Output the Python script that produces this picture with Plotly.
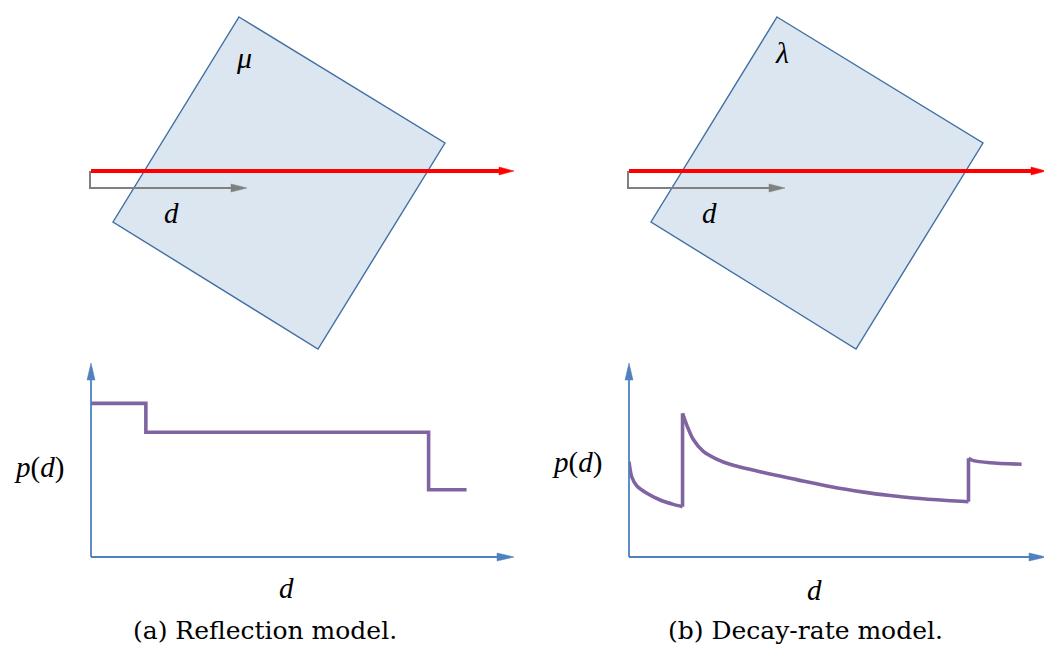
import plotly.graph_objects as go

# p(d) for the reflection model: piecewise-constant along the ray
refl_d = [0.0, 1.3, 1.3, 8.0, 8.0, 8.9]
refl_p = [0.80, 0.80, 0.65, 0.65, 0.35, 0.35]

# p(d) for the decay-rate model: decays inside each region, jumps at boundaries
decay_seg1_d = [0.0, 0.065, 0.19, 0.43, 0.75, 1.07, 1.29]
decay_seg1_p = [0.496, 0.418, 0.370, 0.332, 0.297, 0.274, 0.262]
decay_seg2_d = [1.29, 1.39, 1.55, 1.79, 2.11, 2.43, 3.24, 4.04, 4.84, 5.65, 6.29, 6.85, 7.66, 8.18]
decay_seg2_p = [0.748, 0.688, 0.612, 0.550, 0.510, 0.483, 0.440, 0.403, 0.367, 0.338, 0.320, 0.307, 0.294, 0.288]
decay_seg3_d = [8.18, 8.30, 8.70, 9.46]
decay_seg3_p = [0.514, 0.502, 0.491, 0.483]

W, H = 1044, 646
PURPLE = "#8064a2"
AXBLUE = "#4f81bd"
FILL = "#dce6f0"
EDGE = "#3f6fa3"
RED = "#ff0000"
GRAY = "#808080"
TEXT_FONT = "DejaVu Serif"
MATH_FONT = "Liberation Serif"
CURVE = dict(color=PURPLE, width=3.6)

fig = go.Figure()

def dom_x(a, b):
    return [a / W, b / W]

def dom_y(top, bottom):
    return [1 - bottom / H, 1 - top / H]

# reflection model curve
fig.add_trace(go.Scatter(x=refl_d, y=refl_p, mode="lines", line=CURVE,
                         xaxis="x2", yaxis="y2", showlegend=False))

# decay-rate model: smooth decays plus vertical jumps at the boundaries
segments = [(decay_seg1_d, decay_seg1_p), (decay_seg2_d, decay_seg2_p),
            (decay_seg3_d, decay_seg3_p)]
for sd, sp in segments:
    fig.add_trace(go.Scatter(x=sd, y=sp, mode="lines",
                             line=dict(CURVE, shape="spline", smoothing=0.8),
                             xaxis="x3", yaxis="y3", showlegend=False))
for (ad, ap), (bd, bp) in zip(segments[:-1], segments[1:]):
    fig.add_trace(go.Scatter(x=[ad[-1], bd[0]], y=[ap[-1], bp[0]], mode="lines",
                             line=CURVE, xaxis="x3", yaxis="y3", showlegend=False))

hidden = dict(visible=False, fixedrange=True)
fig.update_layout(
    width=W, height=H,
    margin=dict(l=0, r=0, t=0, b=0),
    paper_bgcolor="white", plot_bgcolor="rgba(0,0,0,0)",
    xaxis=dict(range=[0, W], domain=[0, 1], **hidden),
    yaxis=dict(range=[H, 0], domain=[0, 1], **hidden),
    xaxis2=dict(range=[0, 10], domain=dom_x(91, 513), anchor="y2", **hidden),
    yaxis2=dict(range=[0, 1], domain=dom_y(365, 557), anchor="x2", **hidden),
    xaxis3=dict(range=[0, 10], domain=dom_x(629, 1044), anchor="y3", **hidden),
    yaxis3=dict(range=[0, 1], domain=dom_y(365, 557), anchor="x3", **hidden),
)

shapes = []

def line(x0, y0, x1, y1, color, width):
    shapes.append(dict(type="line", xref="x", yref="y", x0=x0, y0=y0, x1=x1, y1=y1,
                       line=dict(color=color, width=width)))

def head(tipx, tipy, direction, length, half, color):
    # filled triangular arrowhead
    if direction == "right":
        p = f"M {tipx} {tipy} L {tipx-length} {tipy-half} L {tipx-length} {tipy+half} Z"
    else:  # up
        p = f"M {tipx} {tipy} L {tipx-half} {tipy+length} L {tipx+half} {tipy+length} Z"
    shapes.append(dict(type="path", xref="x", yref="y", path=p,
                       fillcolor=color, line=dict(color=color, width=0.5)))

def panel(ox, square, rx_end):
    # tilted region
    pts = " L ".join(f"{x+ox} {y}" for x, y in square)
    shapes.append(dict(type="path", xref="x", yref="y", path=f"M {pts} Z",
                       fillcolor=FILL, line=dict(color=EDGE, width=1.4)))
    # ray
    line(91 + ox, 171, rx_end - 13, 171, RED, 4)
    head(rx_end, 171, "right", 15, 4, RED)
    # distance marker
    shapes.append(dict(type="path", xref="x", yref="y",
                       path=f"M {90+ox} 171 L {90+ox} 188 L {233+ox} 188",
                       line=dict(color=GRAY, width=2)))
    head(247 + ox, 188, "right", 16, 4, GRAY)
    # plot axes
    line(91 + ox, 557, 91 + ox, 378, AXBLUE, 1.8)
    head(91 + ox, 363, "up", 17, 4, AXBLUE)
    line(91 + ox, 557, rx_end - 15, 557, AXBLUE, 1.8)
    head(rx_end, 557, "right", 17, 4, AXBLUE)

square = [(239, 17), (445, 143), (318, 349), (113, 222)]
panel(0, square, 514)
panel(538, square, 1046)

fig.update_layout(shapes=shapes)

def label(x, y, text, family, size):
    fig.add_annotation(x=x, y=y, xref="x", yref="y", text=text, showarrow=False,
                       xanchor="center", yanchor="middle",
                       font=dict(family=family, size=size, color="black"))

label(244, 57, "<i>μ</i>", MATH_FONT, 30)
label(782, 52, "<i>λ</i>", MATH_FONT, 30)
label(171, 213, "<i>d</i>", MATH_FONT, 29)
label(709, 213, "<i>d</i>", MATH_FONT, 29)
label(39, 467, "<i>p</i>(<i>d</i>)", MATH_FONT, 29)
label(577, 462, "<i>p</i>(<i>d</i>)", MATH_FONT, 29)
label(286, 588, "<i>d</i>", MATH_FONT, 29)
label(814, 590, "<i>d</i>", MATH_FONT, 29)
label(265, 630, "(a) Reflection model.", TEXT_FONT, 25)
label(805, 630, "(b) Decay-rate model.", TEXT_FONT, 25)

fig.write_html("out.html")
